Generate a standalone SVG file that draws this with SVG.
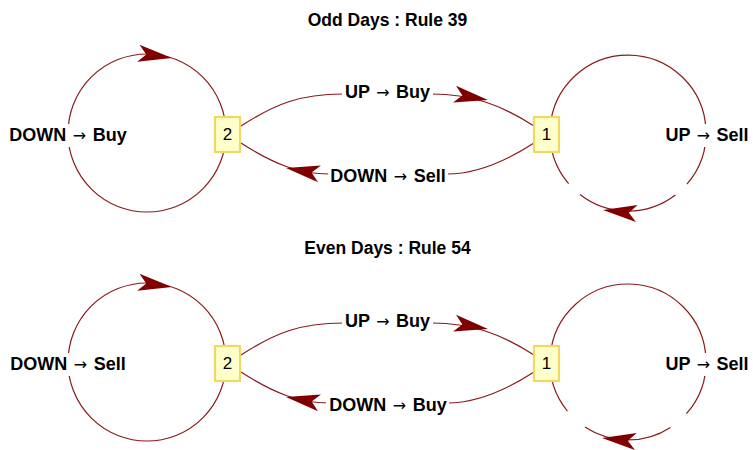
<svg xmlns="http://www.w3.org/2000/svg" width="753" height="450" viewBox="0 0 753 450">
<style>
.e{fill:none;stroke:#8b1a1a;stroke-width:1.2}
.ah{fill:#800000}
.lb{fill:#fff}
.t{font-family:"Liberation Sans",Arial,sans-serif;font-weight:bold;font-size:18px;text-anchor:middle;fill:#000}
.l{word-spacing:1.5px}
.ar{font-family:"DejaVu Sans",sans-serif;font-weight:normal;font-size:16px}
.ttl{font-size:17.5px}
.nb{fill:#ffffcc;stroke:#efd863;stroke-width:2.2}
.nt{font-family:"Liberation Sans",Arial,sans-serif;font-size:17px;text-anchor:middle;fill:#000}
</style>
<defs>
<path id="ah" class="ah" d="M0,0 L-34,-8.5 L-26,0 L-34,8.5 Z"/>
</defs>
<rect width="753" height="450" fill="#fff"/>

<text class="t ttl" x="387.5" y="26">Odd Days : Rule 39</text>
<text class="t ttl" x="387.5" y="254">Even Days : Rule 54</text>

<g id="connectors-odd">
<circle class="e" cx="147" cy="133" r="79"/>
<path class="e" d="M675.4,195 A78,78 0 0 1 580,194.5 M568.6,183.6 A78,78 0 1 1 686.9,184.2"/>
<path class="e" d="M241,126 C275,104 300,94 343,94 L432,94 C470,94 500,104 534,126"/>
<path class="e" d="M534,143 C500,165 470,174 447,174 L329,174 C300,174 275,165 241,143"/>
<use href="#ah" transform="translate(172,58) rotate(8)"/>
<use href="#ah" transform="translate(488,100) rotate(10)"/>
<use href="#ah" transform="translate(286,168) rotate(190)"/>
<use href="#ah" transform="translate(603,210) rotate(186)"/>
<rect class="lb" x="7" y="124" width="123" height="23"/>
<text class="t l" x="68" y="141">DOWN <tspan class="ar">→</tspan> Buy</text>
<rect class="lb" x="342" y="83" width="91" height="20"/>
<text class="t l" x="387.5" y="98">UP <tspan class="ar">→</tspan> Buy</text>
<rect class="lb" x="328" y="166" width="120" height="20"/>
<text class="t l" x="388" y="182">DOWN <tspan class="ar">→</tspan> Sell</text>
<rect class="lb" x="664" y="124" width="88" height="23"/>
<text class="t l" x="707" y="141">UP <tspan class="ar">→</tspan> Sell</text>
</g>

<g id="connectors-even" transform="translate(0,229)">
<circle class="e" cx="147" cy="133" r="79"/>
<path class="e" d="M670.5,198.4 A78,78 0 0 1 585,198 M567.4,182.1 A78,78 0 1 1 686.4,184.7"/>
<path class="e" d="M241,126 C275,104 300,94 343,94 L432,94 C470,94 500,104 534,126"/>
<path class="e" d="M534,143 C500,165 470,174 447,174 L329,174 C300,174 275,165 241,143"/>
<use href="#ah" transform="translate(172,58) rotate(8)"/>
<use href="#ah" transform="translate(488,100) rotate(10)"/>
<use href="#ah" transform="translate(286,168) rotate(190)"/>
<use href="#ah" transform="translate(602,209) rotate(186)"/>
<rect class="lb" x="7" y="124" width="123" height="23"/>
<text class="t l" x="68" y="141">DOWN <tspan class="ar">→</tspan> Sell</text>
<rect class="lb" x="342" y="83" width="91" height="20"/>
<text class="t l" x="387.5" y="98">UP <tspan class="ar">→</tspan> Buy</text>
<rect class="lb" x="326" y="166" width="123" height="20"/>
<text class="t l" x="388" y="182">DOWN <tspan class="ar">→</tspan> Buy</text>
<rect class="lb" x="664" y="124" width="88" height="23"/>
<text class="t l" x="707" y="141">UP <tspan class="ar">→</tspan> Sell</text>
</g>

<g id="node-odd-2">
<rect class="nb" x="215" y="117" width="25" height="35"/>
<text class="nt" x="227.5" y="140">2</text>
</g>
<g id="node-odd-1">
<rect class="nb" x="534" y="117" width="25" height="35"/>
<text class="nt" x="546.5" y="140">1</text>
</g>
<g id="node-even-2">
<rect class="nb" x="215" y="346" width="25" height="35"/>
<text class="nt" x="227.5" y="369">2</text>
</g>
<g id="node-even-1">
<rect class="nb" x="534" y="346" width="25" height="35"/>
<text class="nt" x="546.5" y="369">1</text>
</g>
</svg>
